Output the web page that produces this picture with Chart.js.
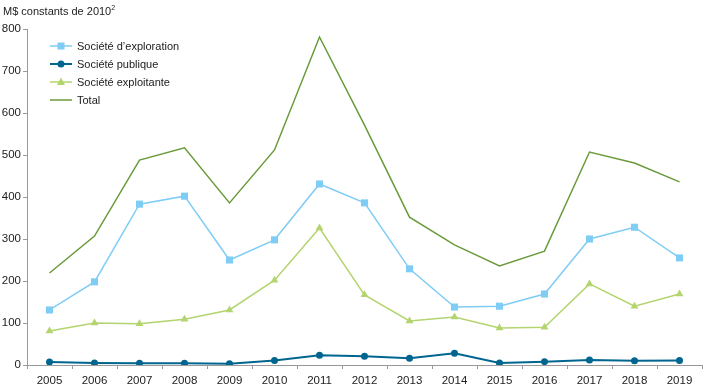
<!DOCTYPE html>
<html>
<head>
<meta charset="utf-8">
<script src="https://cdn.jsdelivr.net/npm/chart.js@4.4.1/dist/chart.umd.min.js"></script>
<style>
  html, body { margin: 0; padding: 0; background: #fff; }
  body { width: 707px; height: 385px; position: relative; overflow: hidden; font-family: "Liberation Sans", Arial, sans-serif; }
  #wrap { position: absolute; left: 0; top: 0; width: 707px; height: 385px; }
  #unit { position: absolute; left: 3px; top: 4px; font-size: 11px; color: #222; }
  #unit sup { font-size: 7px; }
  #legend { position: absolute; left: 50px; top: 37px; font-size: 11px; color: #222; }
  .item { height: 18px; display: flex; align-items: center; }
  .item svg { margin-right: 5px; }
</style>
</head>
<body>
<div id="wrap"><canvas id="lineChart"></canvas></div>
<div id="unit">M$ constants de 2010<sup>2</sup></div>
<div id="legend"></div>
<script>
// Data
const years = ['2005', '2006', '2007', '2008', '2009', '2010', '2011', '2012', '2013', '2014', '2015', '2016', '2017', '2018', '2019'];
const exploration = [131, 198, 383, 402, 250, 298, 431, 386, 229, 138, 140, 169, 300, 328, 255];
const publique = [7, 5, 4, 4, 3, 11, 23, 21, 16, 28, 5, 8, 12, 10, 11];
const exploitante = [81, 100, 98, 109, 131, 202, 326, 167, 105, 114, 88, 90, 193, 140, 169];
const total = [219, 307, 488, 517, 386, 512, 781, 571, 352, 286, 236, 271, 507, 481, 436];
const yTicks = [0, 100, 200, 300, 400, 500, 600, 700, 800];

const series = [
    { label: 'Société d\u2019exploration', data: exploration, color: '#7fcdf5', style: 'rect', radius: 5, width: 1.5 },
    { label: 'Société publique', data: publique, color: '#006690', style: 'circle', radius: 3.5, width: 2 },
    { label: 'Société exploitante', data: exploitante, color: '#b3d46e', style: 'triangle', radius: 4.5, width: 1.5 },
    { label: 'Total', data: total, color: '#6a9a3a', style: false, radius: 0, width: 1.5 },
];

const ctx = document.getElementById('lineChart').getContext('2d');
new Chart(ctx, {
    type: 'line',
    data: {
        labels: years,
        datasets: series.map(s => ({
            label: s.label,
            data: s.data,
            borderColor: s.color,
            backgroundColor: s.color,
            borderWidth: s.width,
            pointStyle: s.style,
            pointRadius: s.radius,
            pointBorderWidth: 0,
            tension: 0,
        })),
    },
    options: {
        responsive: true,
        maintainAspectRatio: false,
        animation: false,
        layout: { padding: { top: 29, right: 1, left: 0, bottom: 0 } },
        plugins: { legend: { display: false }, tooltip: { enabled: false } },
        scales: {
            x: {
                offset: true,
                grid: { display: true, drawOnChartArea: false, offset: true, tickLength: 4, color: '#999' },
                border: { color: '#999' },
                ticks: { color: '#222', font: { family: 'Liberation Sans', size: 11.5 }, padding: 5, maxRotation: 0 },
                afterFit: scale => { scale.height = 20; },
            },
            y: {
                min: 0,
                max: 800,
                afterBuildTicks: scale => { scale.ticks = yTicks.map(v => ({ value: v })); },
                grid: { display: true, drawOnChartArea: false, tickLength: 4, color: '#999' },
                border: { color: '#999' },
                ticks: { color: '#222', font: { family: 'Liberation Sans', size: 11.5 }, padding: 2 },
                afterFit: scale => { scale.width = 27; },
            },
        },
    },
});

// Legend inside the plot, top-left
const legend = document.getElementById('legend');
series.forEach(s => {
    let marker = '';
    if (s.style === 'rect') marker = `<rect x="7.5" y="3.5" width="7" height="7" fill="${s.color}"/>`;
    if (s.style === 'circle') marker = `<circle cx="11" cy="7" r="3.5" fill="${s.color}"/>`;
    if (s.style === 'triangle') marker = `<polygon points="11,2.5 15,10 7,10" fill="${s.color}"/>`;
    const row = document.createElement('div');
    row.className = 'item';
    row.innerHTML = `<svg width="22" height="14"><line x1="0" y1="7" x2="22" y2="7" stroke="${s.color}" stroke-width="${s.width}"/>${marker}</svg><span>${s.label}</span>`;
    legend.appendChild(row);
});
</script>
</body>
</html>
